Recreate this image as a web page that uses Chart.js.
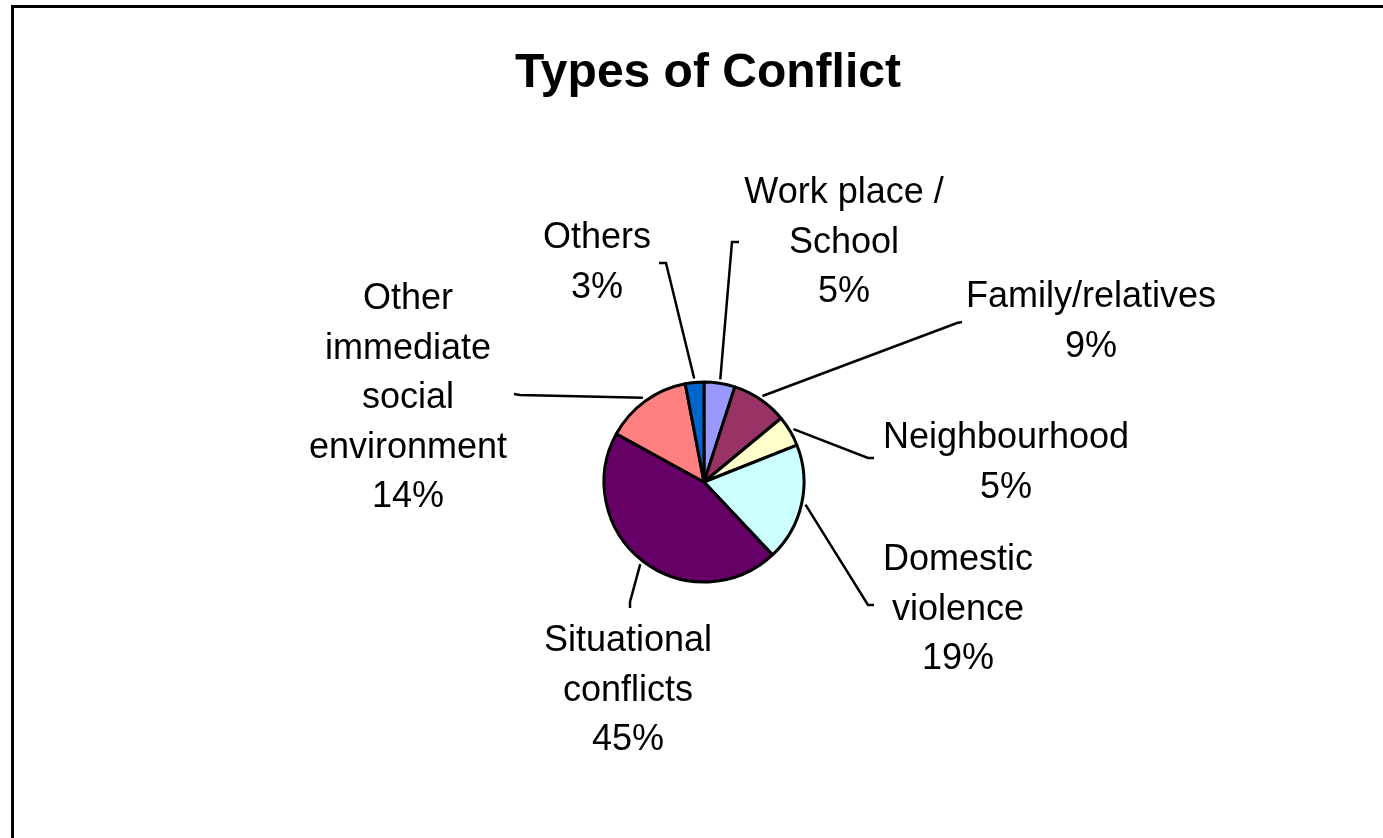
<!DOCTYPE html>
<html>
<head>
<meta charset="utf-8">
<script src="https://cdn.jsdelivr.net/npm/chart.js@4/dist/chart.umd.min.js"></script>
<style>
  html, body { margin: 0; padding: 0; background: #ffffff; }
  #wrap { width: 1383px; height: 838px; position: relative; }
</style>
</head>
<body>
<div id="wrap"><canvas id="c" width="1383" height="838"></canvas></div>
<script>
const chartTitle = 'Types of Conflict';
const categories = ['Work place / School', 'Family/relatives', 'Neighbourhood', 'Domestic violence', 'Situational conflicts', 'Other immediate social environment', 'Others'];
const labelLines = [
  ['Work place /', 'School'],
  ['Family/relatives'],
  ['Neighbourhood'],
  ['Domestic', 'violence'],
  ['Situational', 'conflicts'],
  ['Other', 'immediate', 'social', 'environment'],
  ['Others']
];
const values = [5, 9, 5, 19, 45, 14, 3];
const colors = ['#9999FF', '#993366', '#FFFFCC', '#CCFFFF', '#660066', '#FF8080', '#0066CC'];

// layout of label blocks: centre x, first baseline y
const labelLayout = [
  { x: 844, y: 203 },
  { x: 1091, y: 307 },
  { x: 1006, y: 448 },
  { x: 958, y: 570 },
  { x: 628, y: 651 },
  { x: 408, y: 309 },
  { x: 597, y: 248 }
];
// leader line end + short tick end
const leaderLayout = [
  { ex: 732, ey: 242, tx: 739, ty: 242 },
  { ex: 957, ey: 323, tx: 962, ty: 322 },
  { ex: 868, ey: 458, tx: 874, ty: 458 },
  { ex: 868, ey: 605, tx: 874, ty: 605 },
  { ex: 630, ey: 602, tx: 630, ty: 608 },
  { ex: 520, ey: 395, tx: 514, ty: 394 },
  { ex: 666, ey: 263, tx: 659, ty: 263 }
];
const LINE_H = 49.5;
const LABEL_FONT = '36px "Liberation Sans", Arial, sans-serif';

const decor = {
  id: 'decor',
  beforeDraw(chart) {
    const ctx = chart.ctx;
    ctx.save();
    ctx.fillStyle = '#ffffff';
    ctx.fillRect(0, 0, chart.width, chart.height);
    ctx.strokeStyle = '#000000';
    ctx.lineWidth = 3;
    ctx.strokeRect(12.5, 6.5, chart.width + 20, chart.height + 20);
    // title
    ctx.fillStyle = '#000000';
    ctx.font = 'bold 48px "Liberation Sans", Arial, sans-serif';
    ctx.textAlign = 'center';
    ctx.textBaseline = 'alphabetic';
    ctx.fillText(chartTitle, 708, 87);
    ctx.restore();
  },
  afterDatasetsDraw(chart) {
    const ctx = chart.ctx;
    const meta = chart.getDatasetMeta(0);
    const total = values.reduce((a, b) => a + b, 0);
    ctx.save();
    ctx.strokeStyle = '#000000';
    ctx.lineWidth = 2.5;
    meta.data.forEach((arc, i) => {
      const p = arc.getProps(['x', 'y', 'startAngle', 'endAngle', 'outerRadius'], true);
      const mid = (p.startAngle + p.endAngle) / 2;
      const sx = p.x + (p.outerRadius + 4) * Math.cos(mid);
      const sy = p.y + (p.outerRadius + 4) * Math.sin(mid);
      const L = leaderLayout[i];
      ctx.beginPath();
      ctx.moveTo(sx, sy);
      ctx.lineTo(L.ex, L.ey);
      ctx.lineTo(L.tx, L.ty);
      ctx.stroke();
    });
    ctx.fillStyle = '#000000';
    ctx.font = LABEL_FONT;
    ctx.textAlign = 'center';
    ctx.textBaseline = 'alphabetic';
    labelLines.forEach((lines, i) => {
      const all = lines.concat([Math.round(values[i] / total * 100) + '%']);
      const pos = labelLayout[i];
      all.forEach((t, k) => ctx.fillText(t, pos.x, pos.y + k * LINE_H));
    });
    ctx.restore();
  }
};

new Chart(document.getElementById('c'), {
  type: 'pie',
  data: {
    labels: categories,
    datasets: [{
      data: values,
      backgroundColor: colors,
      borderColor: '#000000',
      borderWidth: 3,
      radius: 100
    }]
  },
  options: {
    responsive: false,
    animation: false,
    layout: { padding: { left: 225, right: 200, top: 226, bottom: 100 } },
    plugins: {
      legend: { display: false },
      title: { display: false },
      tooltip: { enabled: false }
    }
  },
  plugins: [decor]
});
</script>
</body>
</html>
